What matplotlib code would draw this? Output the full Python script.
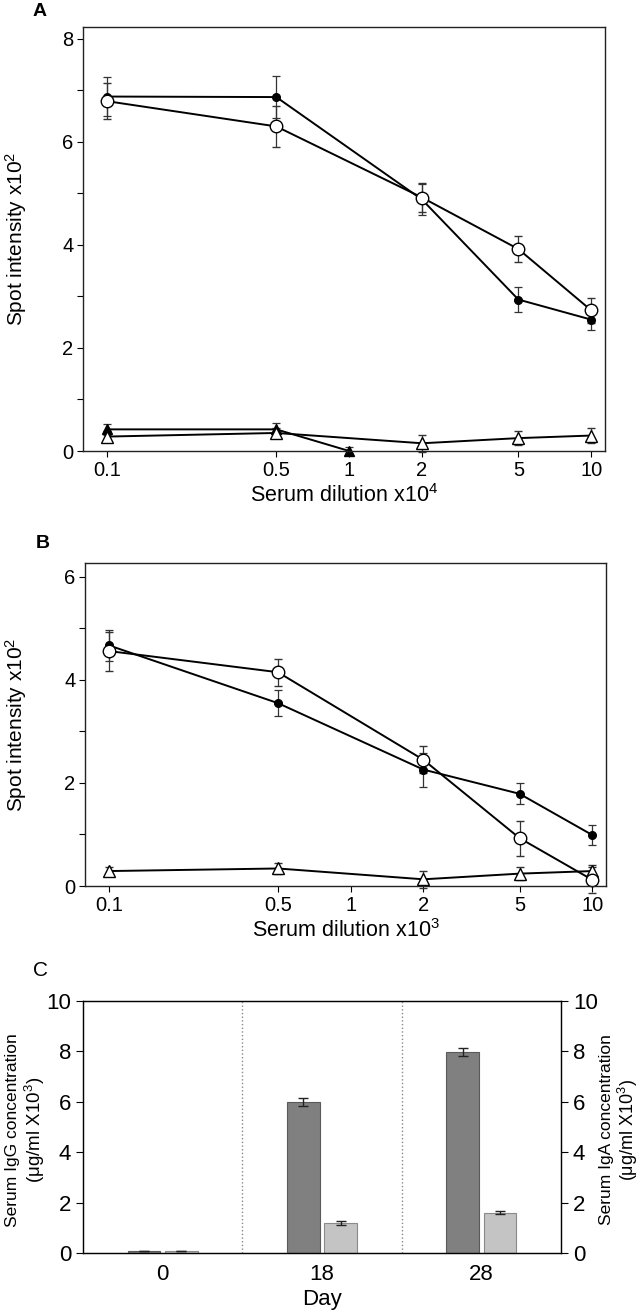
import numpy as np
import matplotlib
matplotlib.use("Agg")
import matplotlib.pyplot as plt

plt.rcParams['font.family'] = ['Liberation Sans', 'DejaVu Sans']
plt.rcParams['mathtext.fontset'] = 'custom'
plt.rcParams['mathtext.rm'] = 'Liberation Sans'
plt.rcParams['mathtext.it'] = 'Liberation Sans'

# panel A (dilution x10^4)
dil = [0.1, 0.5, 2, 5, 10]
a_filled = [6.88, 6.87, 4.88, 2.94, 2.55]
a_filled_err = [0.38, 0.40, 0.30, 0.25, 0.20]
a_open = [6.79, 6.30, 4.92, 3.92, 2.73]
a_open_err = [0.35, 0.40, 0.28, 0.25, 0.24]
a_tri_f_x = [0.1, 0.5, 1]
a_tri_f = [0.42, 0.42, 0.0]
a_tri_f_err = [0.10, 0.12, 0.08]
a_tri_o = [0.28, 0.35, 0.15, 0.25, 0.30]
a_tri_o_err = [0.10, 0.10, 0.17, 0.14, 0.14]

# panel B (dilution x10^3)
b_filled = [4.67, 3.55, 2.26, 1.79, 0.99]
b_filled_err = [0.30, 0.25, 0.33, 0.20, 0.20]
b_open = [4.56, 4.15, 2.45, 0.93, 0.12]
b_open_err = [0.38, 0.26, 0.26, 0.34, 0.25]
b_tri_o = [0.29, 0.34, 0.13, 0.24, 0.29]
b_tri_o_err = [0.08, 0.10, 0.16, 0.12, 0.11]

# panel C
days = ['0', '18', '28']
igg = [0.07, 6.0, 7.97]
igg_err = [0.0, 0.15, 0.17]
iga = [0.07, 1.2, 1.6]
iga_err = [0.0, 0.07, 0.07]

xticks = [0.1, 0.5, 1, 2, 5, 10]
xticklabels = ['0.1', '0.5', '1', '2', '5', '10']

W, H = 641, 1310
fig = plt.figure(figsize=(W / 100, H / 100), dpi=100)

ecol = '#333333'
kw = dict(capsize=3, elinewidth=0.9, capthick=0.9, ecolor=ecol, color='black', lw=1.4)


def style_line_ax(ax, ymax, ylim_top, xlabel_exp, lab_x):
    ax.set_xscale('log')
    ax.set_xlim(0.0795, 11.4)
    ax.set_ylim(0, ylim_top)
    ax.set_xticks(xticks)
    ax.set_xticklabels(xticklabels)
    ax.minorticks_off()
    ax.set_yticks(np.arange(0, ymax + 1, 1))
    ax.set_yticklabels([str(v) if v % 2 == 0 else '' for v in range(0, ymax + 1)])
    ax.tick_params(direction='out', length=4, width=0.8, labelsize=14.5, pad=3)
    for s in ax.spines.values():
        s.set_linewidth(1.0)
        s.set_color('#222222')
    ax.set_xlabel('Serum dilution x10$^{%d}$' % xlabel_exp, fontsize=15.5, labelpad=3)
    ax.set_ylabel('Spot intensity x10$^2$', fontsize=15)
    ax.yaxis.set_label_coords(lab_x, 0.5)


# ---- A
axA = fig.add_axes([83 / W, 1 - 451 / H, (605 - 83) / W, (451 - 27) / H])
axA.errorbar(a_tri_f_x, a_tri_f, yerr=a_tri_f_err, marker='^', ms=7, mfc='black', mec='black', **kw)
axA.errorbar(dil, a_tri_o, yerr=a_tri_o_err, marker='^', ms=8, mfc='white', mec='black', mew=1.0, **kw)
axA.errorbar(dil, a_filled, yerr=a_filled_err, marker='o', ms=5.5, mfc='black', mec='black', **kw)
axA.errorbar(dil, a_open, yerr=a_open_err, marker='o', ms=9, mfc='white', mec='black', mew=1.0, **kw)
style_line_ax(axA, 8, 8.23, 4, (29 - 83) / (605 - 83))
for l in axA.lines:
    l.set_clip_on(False)

# ---- B
axB = fig.add_axes([85 / W, 1 - 886 / H, (606 - 85) / W, (886 - 563) / H])
axB.errorbar(dil, b_tri_o, yerr=b_tri_o_err, marker='^', ms=8, mfc='white', mec='black', mew=1.0, **kw)
axB.errorbar(dil, b_filled, yerr=b_filled_err, marker='o', ms=5.5, mfc='black', mec='black', **kw)
axB.errorbar(dil, b_open, yerr=b_open_err, marker='o', ms=9, mfc='white', mec='black', mew=1.0, **kw)
style_line_ax(axB, 6, 6.27, 3, (29 - 85) / (606 - 85))
for l in axB.lines:
    l.set_clip_on(False)

# ---- C
axC = fig.add_axes([83 / W, 1 - 1253 / H, (561 - 83) / W, (1253 - 1001) / H])
x = np.arange(len(days))
w = 0.205
axC.bar(x - 0.117, igg, w, color='#808080', edgecolor='#5a5a5a', lw=0.8,
        yerr=igg_err, error_kw=dict(capsize=3.5, elinewidth=1.0, capthick=1.0, ecolor='#222222'))
axC.bar(x + 0.117, iga, w, color='#c4c4c4', edgecolor='#8a8a8a', lw=0.8,
        yerr=iga_err, error_kw=dict(capsize=3.5, elinewidth=1.0, capthick=1.0, ecolor='#222222'))
for sep in [0.5, 1.5]:
    axC.axvline(sep, color='#888888', ls=':', lw=1.0)
axC.set_xlim(-0.5, 2.5)
axC.set_ylim(0, 10)
axC.set_xticks(x)
axC.set_xticklabels(days)
axC.set_yticks(range(0, 11, 2))
axC.tick_params(axis='x', length=0, labelsize=16, pad=8)
axC.tick_params(axis='y', direction='out', length=5, width=0.8, labelsize=16)
for s in axC.spines.values():
    s.set_linewidth(1.0)
    s.set_color('#222222')
axC.set_xlabel('Day', fontsize=16, labelpad=3)
axR = axC.twinx()
axR.set_ylim(0, 10)
axR.set_yticks(range(0, 11, 2))
axR.tick_params(axis='y', direction='out', length=5, width=0.8, labelsize=16)

# two-line axis titles of panel C (second line is set larger)
yc = 1 - 1130 / H
fig.text(13 / W, yc, 'Serum IgG concentration', fontsize=12.5, rotation=90, ha='center', va='center')
fig.text(35 / W, yc, '(\u03bcg/ml X10$^3$)', fontsize=13.5, rotation=90, ha='center', va='center')
fig.text(607 / W, yc, 'Serum IgA concentration', fontsize=12.5, rotation=90, ha='center', va='center')
fig.text(628 / W, yc, '(\u03bcg/ml X10$^3$)', fontsize=13, rotation=90, ha='center', va='center')

fig.text(40 / W, 1 - 12 / H, 'A', fontsize=14, fontweight='bold', ha='center', va='center')
fig.text(43 / W, 1 - 543 / H, 'B', fontsize=14, fontweight='bold', ha='center', va='center')
fig.text(41 / W, 1 - 970 / H, 'C', fontsize=15, ha='center', va='center')

fig.savefig('out.png', dpi=100)
